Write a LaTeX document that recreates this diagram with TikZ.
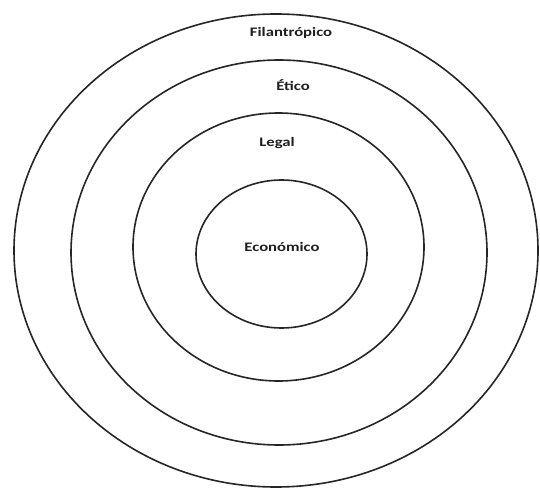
\documentclass[tikz,border=0pt]{standalone}
\usepackage{fontspec}
\setmainfont{Carlito}
\tikzset{
  ring/.style={draw=black!85, line width=1.6pt},
  lbl/.style={font=\bfseries\fontsize{13}{15}\selectfont, text=black!88, xscale=1.28, inner sep=0pt}
}
\begin{document}
\begin{tikzpicture}[x=1pt,y=-1pt]
\useasboundingbox (0,0) rectangle (540,489);
\fill[white] (0,0) rectangle (540,489);
\draw[ring] (276,250.5) ellipse [x radius=262, y radius=236.5];
\draw[ring] (279,252.5) ellipse [x radius=208, y radius=192.5];
\draw[ring] (278.5,247) ellipse [x radius=145.5, y radius=134];
\draw[ring] (281.5,254) ellipse [x radius=85.5, y radius=74];
\node[lbl] (fil) at (291,33) {Filantrópico};
\node[lbl] (eti) at (293,85) {Ético};
\node[lbl] (leg) at (277,143) {Legal};
\node[lbl] (eco) at (282,247) {Económico};
\end{tikzpicture}
\end{document}
